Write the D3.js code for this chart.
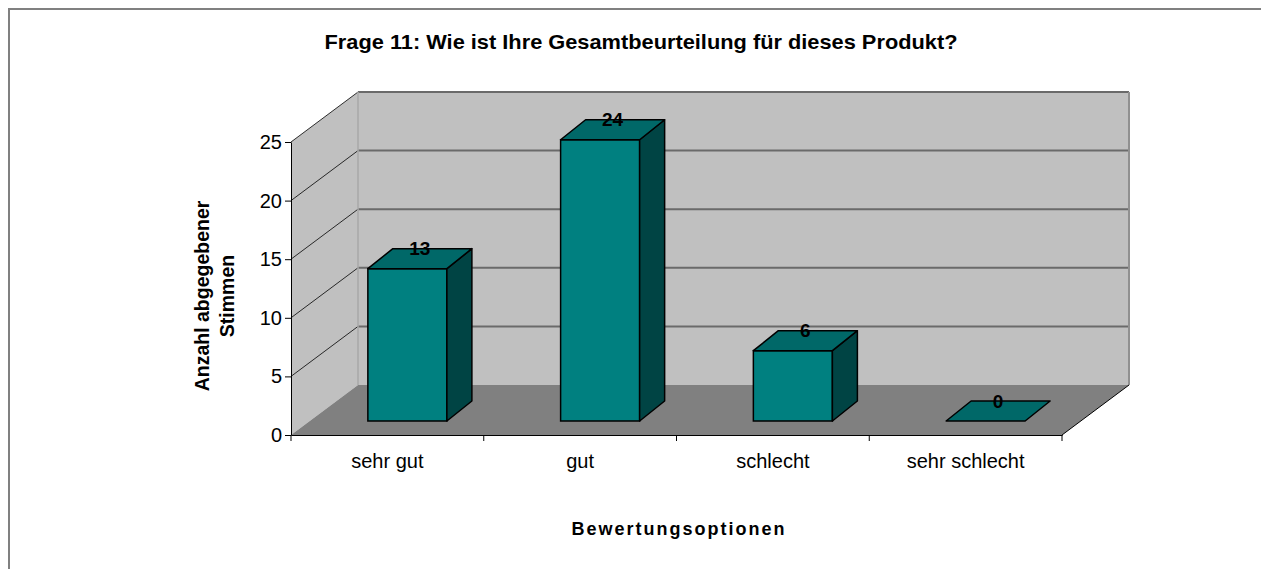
<!DOCTYPE html>
<html>
<head>
<meta charset="utf-8">
<script src="https://cdn.jsdelivr.net/npm/d3@7"></script>
<style>
  body { margin: 0; background: #fff; overflow: hidden; }
  text { font-family: Arial, "Liberation Sans", sans-serif; fill: #000; }
</style>
</head>
<body>
<svg width="1261" height="569"></svg>
<script>
// data
const categories = ['sehr gut', 'gut', 'schlecht', 'sehr schlecht'];
const votes = [13, 24, 6, 0];
const yTicks = [0, 5, 10, 15, 20, 25];

const svg = d3.select('svg'),
    plotL = 291, plotR = 1062, base = 435, plotT = 142,
    depth = {dx: 67, dy: -50},        // depth of the whole 3d box
    barOff = {dx: 20, dy: -14},       // where the bar front sits in the box
    barDepth = {dx: 25, dy: -20},
    x = d3.scaleBand().domain(categories).range([plotL, plotR]),
    y = d3.scaleLinear().domain([0, 25]).range([base, plotT]),
    barW = x.bandwidth() * 0.41;

// outer frame (only top and left visible)
svg.append('path')
    .attr('d', 'M9,569V9H1261')
    .attr('fill', 'none')
    .attr('stroke', '#808080')
    .attr('stroke-width', 2);

svg.append('text')
    .attr('x', 641).attr('y', 49)
    .attr('text-anchor', 'middle')
    .attr('font-size', 21).attr('font-weight', 'bold')
    .attr('textLength', 633).attr('lengthAdjust', 'spacingAndGlyphs')
    .text('Frage 11: Wie ist Ihre Gesamtbeurteilung für dieses Produkt?');

const pt = (px, py) => px + ',' + py;

// walls + floor
svg.append('polygon')   // left wall
    .attr('points', [pt(plotL, y(25)), pt(plotL + depth.dx, y(25) + depth.dy), pt(plotL + depth.dx, base + depth.dy), pt(plotL, base)].join(' '))
    .attr('fill', '#c0c0c0');
svg.append('rect')      // back wall
    .attr('x', plotL + depth.dx).attr('y', y(25) + depth.dy)
    .attr('width', plotR - plotL).attr('height', base - y(25))
    .attr('fill', '#c0c0c0');
svg.append('polygon')   // floor
    .attr('points', [pt(plotL, base), pt(plotL + depth.dx, base + depth.dy), pt(plotR + depth.dx, base + depth.dy), pt(plotR, base)].join(' '))
    .attr('fill', '#808080');

// back wall gridlines
svg.append('g').selectAll('line')
    .data(yTicks.filter(d => d > 0))
    .join('line')
    .attr('x1', plotL + depth.dx).attr('x2', plotR + depth.dx)
    .attr('y1', d => y(d) + depth.dy).attr('y2', d => y(d) + depth.dy)
    .attr('stroke', '#6a6a6a').attr('stroke-width', 2);

// left wall diagonals
svg.append('g').selectAll('line')
    .data(yTicks.filter(d => d > 0))
    .join('line')
    .attr('x1', plotL).attr('y1', d => y(d))
    .attr('x2', plotL + depth.dx).attr('y2', d => y(d) + depth.dy)
    .attr('stroke', '#000').attr('stroke-width', 0.8);

// wall corner and right edges
svg.append('line')
    .attr('x1', plotL + depth.dx).attr('x2', plotL + depth.dx)
    .attr('y1', y(25) + depth.dy).attr('y2', base + depth.dy)
    .attr('stroke', '#a8a8a8').attr('stroke-width', 1.5);
svg.append('line')
    .attr('x1', plotR + depth.dx).attr('x2', plotR + depth.dx)
    .attr('y1', y(25) + depth.dy).attr('y2', base + depth.dy)
    .attr('stroke', '#909090').attr('stroke-width', 2);
svg.append('line')
    .attr('x1', plotR).attr('y1', base)
    .attr('x2', plotR + depth.dx).attr('y2', base + depth.dy)
    .attr('stroke', '#000').attr('stroke-width', 1);

// y axis
const yAxis = svg.append('g')
    .attr('transform', 'translate(' + plotL + ',0)')
    .call(d3.axisLeft(y).tickValues(yTicks).tickSize(6).tickPadding(3).tickSizeOuter(0));
yAxis.select('.domain').attr('stroke', '#000');
yAxis.selectAll('text').attr('font-size', 20).attr('font-family', 'Arial, "Liberation Sans", sans-serif');

// x axis: labels at band centers, ticks at band edges
const xAxis = svg.append('g')
    .attr('transform', 'translate(0,' + base + ')')
    .call(d3.axisBottom(x).tickSize(0).tickPadding(19).tickSizeOuter(0));
xAxis.select('.domain').attr('stroke', '#000');
xAxis.selectAll('text').attr('font-size', 20).attr('font-family', 'Arial, "Liberation Sans", sans-serif');
xAxis.selectAll('.edge')
    .data(categories.map(c => x(c)).concat([plotR]))
    .join('line')
    .attr('class', 'edge')
    .attr('x1', d => d).attr('x2', d => d)
    .attr('y1', 0).attr('y2', 6)
    .attr('stroke', '#000');

// bars
const bars = svg.append('g').selectAll('g')
    .data(categories.map((c, i) => ({c, v: votes[i]})))
    .join('g');

bars.each(function(d) {
  const g = d3.select(this),
      x0 = x(d.c) + (x.bandwidth() - barW) / 2 + barOff.dx,
      x1 = x0 + barW,
      yb = base + barOff.dy,
      yt = y(d.v) + barOff.dy,
      bx = barDepth.dx, by = barDepth.dy;
  if (d.v > 0) {
    g.append('rect')
        .attr('x', x0).attr('y', yt).attr('width', barW).attr('height', yb - yt)
        .attr('fill', '#008080').attr('stroke', '#000').attr('stroke-width', 1.5);
    g.append('polygon')
        .attr('points', [pt(x1, yt), pt(x1 + bx, yt + by), pt(x1 + bx, yb + by), pt(x1, yb)].join(' '))
        .attr('fill', '#004444').attr('stroke', '#000').attr('stroke-width', 1.5)
        .attr('stroke-linejoin', 'round');
  }
  g.append('polygon')
      .attr('points', [pt(x0, yt), pt(x0 + bx, yt + by), pt(x1 + bx, yt + by), pt(x1, yt)].join(' '))
      .attr('fill', '#006868').attr('stroke', '#000').attr('stroke-width', 1.5)
      .attr('stroke-linejoin', 'round');
  g.append('text')
      .attr('x', (x0 + x1) / 2 + bx / 2).attr('y', yt + by)
      .attr('dy', '0.35em')
      .attr('text-anchor', 'middle')
      .attr('font-size', 19).attr('font-weight', 'bold')
      .text(d.v);
});

// axis titles
svg.append('text')
    .attr('x', 678).attr('y', 535)
    .attr('text-anchor', 'middle')
    .attr('font-size', 18).attr('font-weight', 'bold')
    .attr('textLength', 213).attr('lengthAdjust', 'spacing')
    .text('Bewertungsoptionen');

const yTitle = svg.append('text')
    .attr('transform', 'translate(209,296) rotate(-90)')
    .attr('text-anchor', 'middle')
    .attr('font-size', 19.5).attr('font-weight', 'bold');
yTitle.append('tspan').attr('x', 0).attr('y', 0).text('Anzahl abgegebener');
yTitle.append('tspan').attr('x', 0).attr('y', 25).text('Stimmen');
</script>
</body>
</html>
